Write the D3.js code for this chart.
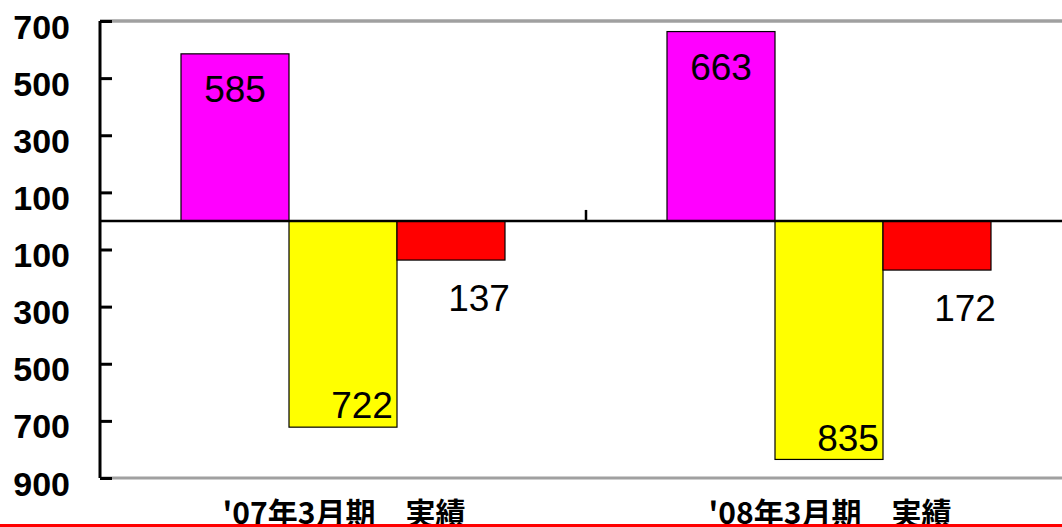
<!DOCTYPE html>
<html><head><meta charset="utf-8">
<script src="https://cdn.jsdelivr.net/npm/d3@7"></script>
<style>body{margin:0;background:#fff;}svg{display:block;}</style>
</head><body>
<svg id="c" width="1062" height="527"></svg>
<script>
const categories = ["'07年3月期　実績", "'08年3月期　実績"];
const seriesNames = ["s1", "s2", "s3"];
const seriesColors = ["#FF00FF", "#FFFF00", "#FF0000"];
const s1 = [585, 663];
const s2 = [-722, -835];
const s3 = [-137, -172];
const tickValues = [700, 500, 300, 100, -100, -300, -500, -700, -900];
const series = [s1, s2, s3];

(function () {
const svg = d3.select("#c");
const W = 1062;
const pL = 100, pR = 1072, pT = 21, pB = 478;

const y = d3.scaleLinear().domain([-900, 700]).range([pB, pT]);
const x = d3.scaleBand().domain(categories).range([pL, pR]).paddingInner(0).paddingOuter(0);
const bw = x.bandwidth();
const groupW = bw * 2 / 3;
const xs = d3.scaleBand().domain(seriesNames).range([0, groupW]);

// plot area top & bottom gray lines
svg.append("line").attr("x1", pL).attr("x2", W).attr("y1", y(700)).attr("y2", y(700))
  .attr("stroke", "#a0a0a0").attr("stroke-width", 3.5);
svg.append("line").attr("x1", pL).attr("x2", W).attr("y1", y(-900)).attr("y2", y(-900))
  .attr("stroke", "#a0a0a0").attr("stroke-width", 3);

// bars
const data = [];
categories.forEach((c, i) => series.forEach((s, j) => data.push({c, i, j, v: s[i]})));
const gBars = svg.append("g");
gBars.selectAll("rect").data(data).join("rect")
  .attr("x", d => x(d.c) + (bw - groupW) / 2 + xs(seriesNames[d.j]))
  .attr("width", xs.bandwidth())
  .attr("y", d => Math.min(y(d.v), y(0)))
  .attr("height", d => Math.abs(y(d.v) - y(0)))
  .attr("fill", d => seriesColors[d.j])
  .attr("stroke", "#000").attr("stroke-width", 1.2);

// zero line
svg.append("line").attr("x1", pL).attr("x2", W).attr("y1", y(0)).attr("y2", y(0))
  .attr("stroke", "#000").attr("stroke-width", 2.5);
// category separator tick
svg.append("line").attr("x1", x(categories[1])).attr("x2", x(categories[1]))
  .attr("y1", y(0)).attr("y2", y(0) - 11).attr("stroke", "#000").attr("stroke-width", 2.5);

// y axis
const axis = d3.axisLeft(y).tickValues(tickValues).tickSize(-12).tickPadding(30)
  .tickFormat(d => Math.abs(d));
const ga = svg.append("g").attr("transform", `translate(${pL},0)`).call(axis);
ga.select(".domain").attr("stroke", "#000").attr("stroke-width", 3)
  .attr("d", `M0,${y(700)}V${y(-900)}`);
ga.selectAll(".tick line").attr("stroke", "#000").attr("stroke-width", 3);
ga.selectAll(".tick text").attr("fill", "#000").attr("font-family", "Liberation Sans, Arial, sans-serif")
  .attr("font-weight", "bold").attr("font-size", 34).attr("dy", "0.5em");

// data labels
const lab = svg.append("g").attr("font-family", "Liberation Sans, Arial, sans-serif")
  .attr("font-size", 37).attr("fill", "#000").attr("text-anchor", "middle");
lab.selectAll("text").data(data).join("text")
  .attr("x", d => {
    const cx = x(d.c) + (bw - groupW) / 2 + xs(seriesNames[d.j]) + xs.bandwidth() / 2;
    return cx + (d.j === 0 ? 0 : d.j === 1 ? 19 : 28);
  })
  .attr("y", d => {
    const yv = y(d.v);
    return yv + (d.j === 0 ? 35 : d.j === 1 ? -22 : 38);
  })
  .attr("dy", "0.36em")
  .text(d => Math.abs(d.v));

// category labels
svg.append("g").selectAll("text").data(categories).join("text")
  .attr("x", d => x(d) + bw / 2 + 1)
  .attr("y", 524)
  .attr("text-anchor", "middle")
  .attr("font-family", "Noto Sans CJK JP, sans-serif")
  .attr("font-weight", "bold").attr("font-size", 30)
  .attr("fill", "#000")
  .text(d => d);

// red bottom line
svg.append("line").attr("x1", 0).attr("x2", W).attr("y1", 525.5).attr("y2", 525.5)
  .attr("stroke", "#FF0000").attr("stroke-width", 3);
})();
</script>
</body></html>
